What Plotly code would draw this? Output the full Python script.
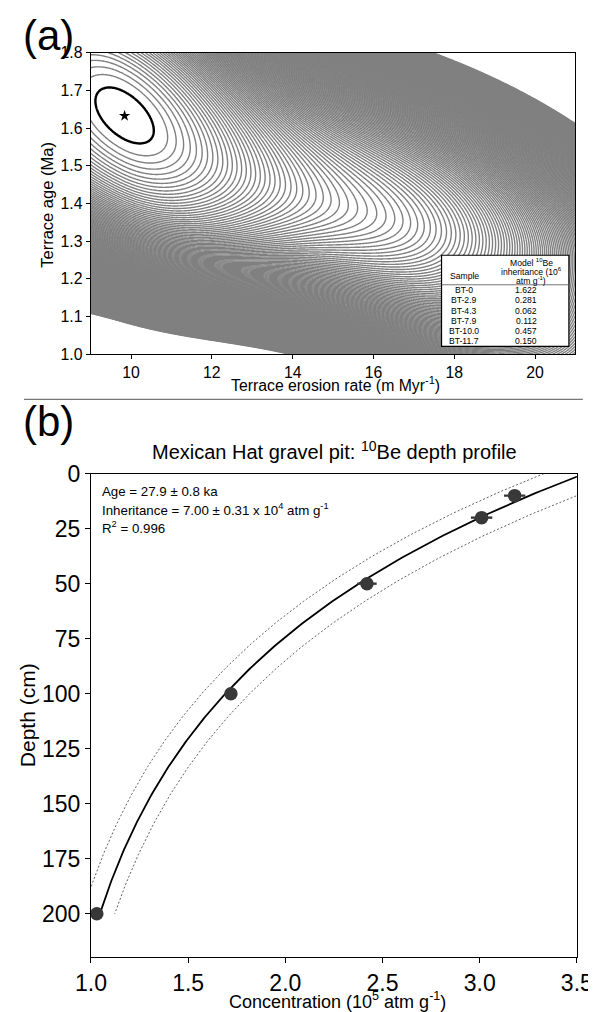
import numpy as np
import plotly.graph_objects as go

# ---------------- Panel (a): misfit surface ----------------
erosion_range = [9, 21]          # m/Myr
age_range = [1.0, 1.8]           # Ma
erosion_ticks = [10, 12, 14, 16, 18, 20]
age_ticks = [1.0, 1.1, 1.2, 1.3, 1.4, 1.5, 1.6, 1.7, 1.8]
best_erosion = 9.84
best_age = 1.633
# empirical misfit-surface parameters
valley_slope, valley_bend = 0.57, 16.9
along_far, along_near, along_scale = 0.14, 0.57, 4.51
width_up, width_up_decay = 0.895, 0.012
width_dn, width_dn_lin, width_dn_quad = 0.93, 0.09, 0.013
misfit_growth = 0.05
best_fit_level = 0.37
gray_start, gray_step, gray_end = 0.80, 0.345, 67.2

samples = ["BT-0", "BT-2.9", "BT-4.3", "BT-7.9", "BT-10.0", "BT-11.7"]
inheritance_1e6 = ["1.622", "0.281", "0.062", "0.112", "0.457", "0.150"]

# ---------------- Panel (b): depth profile ----------------
concentration = [1.03, 1.72, 2.42, 3.01, 3.18]      # 10^5 atm/g
concentration_err = [0.02, 0.03, 0.05, 0.055, 0.055]
depth_cm = [200, 100, 50, 20, 10]
atten_len = 95.0
inh_best, prod_best = 0.70, 2.84
inh_lo, prod_lo = 0.626, 2.704
inh_hi, prod_hi = 0.750, 3.055
conc_ticks = [1.0, 1.5, 2.0, 2.5, 3.0, 3.5]
depth_ticks = [0, 25, 50, 75, 100, 125, 150, 175, 200]

W, H = 596, 1012
# page position for a wanted position in the photographed picture
SX, OX, SY, OY = 0.951, 23.4, 0.978, 20.8
def PX(r):
    return ((r - OX) / SX) / W
def PY(r):
    return 1 - ((r - OY) / SY) / H

# misfit grid
X = np.linspace(erosion_range[0], erosion_range[1], 481)
Y = np.linspace(age_range[0], age_range[1], 321)
XX, YY = np.meshgrid(X, Y)
u = XX - best_erosion
v = (YY - best_age) / 0.1
au = np.abs(u)
v0 = -valley_slope * u / (1 + au / valley_bend)
qmin = u**2 * (along_far + along_near * np.exp(-(u / along_scale) ** 2))
dv = v - v0
c_up = width_up / (1 + width_up_decay * au)
c_dn = np.maximum(width_dn + width_dn_lin * u - width_dn_quad * u**2, 0.25)
Q = qmin + np.where(dv > 0, c_up, c_dn) * dv**2
Z = np.round(Q + misfit_growth * Q**2, 4)

fig = go.Figure()
fig.add_trace(go.Contour(
    x=X, y=Y, z=Z, xaxis="x", yaxis="y",
    contours=dict(start=gray_start, end=gray_end, size=gray_step, coloring="lines"),
    colorscale=[[0, "#808080"], [1, "#808080"]], showscale=False,
    line=dict(width=1.4), hoverinfo="skip"))
fig.add_trace(go.Contour(
    x=X, y=Y, z=Z, xaxis="x", yaxis="y",
    contours=dict(start=best_fit_level, end=best_fit_level, size=1, coloring="lines"),
    colorscale=[[0, "#000000"], [1, "#000000"]], showscale=False,
    line=dict(width=2.4), hoverinfo="skip"))
fig.add_trace(go.Scatter(
    x=[best_erosion], y=[best_age], mode="markers", xaxis="x", yaxis="y",
    marker=dict(symbol="star", size=8.5, color="black"), showlegend=False))

# panel (b)
dz = np.linspace(0, 200, 201)
for inh, prod, style in [(inh_lo, prod_lo, "d"), (inh_hi, prod_hi, "d"), (inh_best, prod_best, "s")]:
    cm = inh + prod * np.exp(-dz / atten_len)
    if style == "s":
        line = dict(color="black", width=1.8)
    else:
        line = dict(color="#444444", width=0.85, dash="2px,2px")
    fig.add_trace(go.Scatter(x=cm, y=dz, mode="lines", line=line,
                             xaxis="x2", yaxis="y2", showlegend=False, hoverinfo="skip"))
fig.add_trace(go.Scatter(
    x=concentration, y=depth_cm, mode="markers", xaxis="x2", yaxis="y2",
    marker=dict(size=13.5, color="#383838"),
    error_x=dict(type="data", array=concentration_err, color="#383838", thickness=2.4, width=0),
    showlegend=False))

FONT = "Arial, 'Liberation Sans', sans-serif"
axis_common = dict(showline=True, linecolor="black", linewidth=1, mirror=True,
                   ticks="outside", ticklen=4, tickcolor="black", showgrid=False, zeroline=False,
                   ticklabeloverflow="allow")

fig.update_layout(
    width=W, height=H, margin=dict(l=0, r=0, t=0, b=0),
    paper_bgcolor="white", plot_bgcolor="white", showlegend=False,
    font=dict(family=FONT, color="black"),
    xaxis=dict(domain=[PX(90.4), PX(577.6)], range=erosion_range, tickvals=erosion_ticks,
               tickfont=dict(size=15.8), anchor="y", **axis_common),
    yaxis=dict(domain=[PY(354), PY(52.7)], range=age_range, tickvals=age_ticks, tickformat=".1f",
               tickfont=dict(size=15.8), anchor="x", **axis_common),
    xaxis2=dict(domain=[PX(90.7), PX(579)], range=[1.0, 3.5], tickvals=conc_ticks, tickformat=".1f",
                tickfont=dict(size=23), anchor="y2", **{**axis_common, "ticklen": 5}),
    yaxis2=dict(domain=[PY(956.7), PY(473.3)], range=[219.7, 0], tickvals=depth_ticks,
                tickfont=dict(size=23), anchor="x2", **{**axis_common, "ticklen": 5}),
)

ann = []
ann.append(dict(text="(a)", x=-3 / W, y=1 - 15 / H, xanchor="left", yanchor="middle", font=dict(size=42)))
ann.append(dict(text="(b)", x=-3 / W, y=1 - 409 / H, xanchor="left", yanchor="middle", font=dict(size=42)))
ann.append(dict(text="Terrace erosion rate (m Myr<sup>-1</sup>)", x=PX(336), y=PY(384),
                xanchor="center", yanchor="middle", font=dict(size=15.8)))
ann.append(dict(text="Terrace age (Ma)", x=PX(47), y=PY(204), textangle=-90,
                xanchor="center", yanchor="middle", font=dict(size=16.5)))
ann.append(dict(text="Mexican Hat gravel pit: <sup>10</sup>Be depth profile", x=PX(335), y=PY(450),
                xanchor="center", yanchor="middle", font=dict(size=20)))
ann.append(dict(text="Concentration (10<sup>5</sup> atm g<sup>-1</sup>)", x=PX(338), y=PY(1000),
                xanchor="center", yanchor="middle", font=dict(size=18)))
ann.append(dict(text="Depth (cm)", x=4 / W, y=PY(715), textangle=-90,
                xanchor="center", yanchor="middle", font=dict(size=21)))
fit_lines = ["Age = 27.9 ± 0.8 ka",
             "Inheritance = 7.00 ± 0.31 x 10<sup>4</sup> atm g<sup>-1</sup>",
             "R<sup>2</sup> = 0.996"]
for i, t in enumerate(fit_lines):
    ann.append(dict(text=t, x=PX(100), y=PY(491 + 18 * i), xanchor="left", yanchor="middle",
                    font=dict(size=13.3)))

# table in panel (a)
tb_l, tb_r, tb_t, tb_b = 443, 571, 255, 346
col1, col2 = 466, 528
TF = 8.6
ann.append(dict(text="Sample", x=PX(col1), y=PY(276), xanchor="center", yanchor="middle", font=dict(size=TF)))
for i, t in enumerate(["Model <sup>10</sup>Be", "inheritance (10<sup>6</sup>", "atm g<sup>-1</sup>)"]):
    ann.append(dict(text=t, x=PX(533), y=PY(262 + 9 * i), xanchor="center", yanchor="middle",
                    font=dict(size=TF)))
for i, (s, val) in enumerate(zip(samples, inheritance_1e6)):
    yy = 290 + 10.2 * i
    ann.append(dict(text=s, x=PX(col1), y=PY(yy), xanchor="center", yanchor="middle", font=dict(size=TF)))
    ann.append(dict(text=val, x=PX(col2), y=PY(yy), xanchor="center", yanchor="middle", font=dict(size=TF)))
for a in ann:
    a.update(xref="paper", yref="paper", showarrow=False)
fig.update_layout(annotations=ann)

shapes = [
    dict(type="rect", xref="paper", yref="paper", x0=PX(tb_l), x1=PX(tb_r), y0=PY(tb_b), y1=PY(tb_t),
         line=dict(color="black", width=1.2), fillcolor="white", layer="above"),
    dict(type="line", xref="paper", yref="paper", x0=PX(tb_l), x1=PX(tb_r), y0=PY(284.5), y1=PY(284.5),
         line=dict(color="#555555", width=0.8), layer="above"),
    dict(type="line", xref="paper", yref="paper", x0=0.0, x1=PX(585), y0=PY(399), y1=PY(399),
         line=dict(color="#555555", width=1)),
]
fig.update_layout(shapes=shapes)
fig.write_html("out.html", config={"displayModeBar": False})
